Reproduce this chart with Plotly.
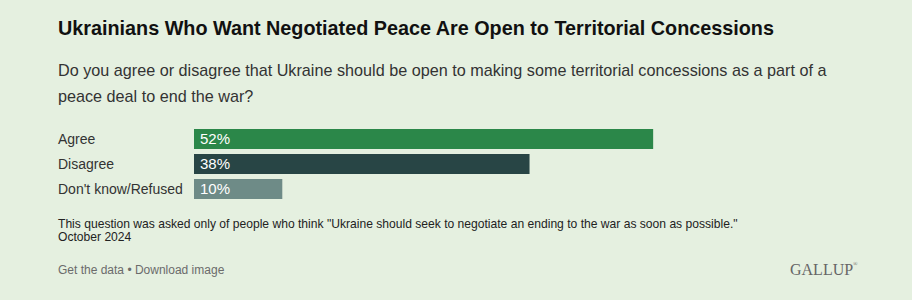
import plotly.graph_objects as go

categories = ["Agree", "Disagree", "Don't know/Refused"]
values = [52, 38, 10]
labels = ["52%", "38%", "10%"]
colors = ["#2b8749", "#284545", "#6e8b87"]

W, H = 912, 300
BG = "#e5f0e0"
FONT = "Liberation Sans, Arial, sans-serif"

x0 = 194
px_per_unit = 8.83
xmax = 60
x1 = x0 + px_per_unit * xmax

fig = go.Figure()
fig.add_trace(go.Bar(
    y=categories, x=values, orientation="h",
    marker=dict(color=colors, line=dict(width=0)),
    width=0.8,
    hoverinfo="skip",
))

top, bottom = 126.5, 201.5
fig.update_layout(
    width=W, height=H,
    margin=dict(l=0, r=0, t=0, b=0),
    paper_bgcolor=BG, plot_bgcolor=BG,
    showlegend=False,
    xaxis=dict(domain=[x0 / W, x1 / W], range=[0, xmax], visible=False, fixedrange=True),
    yaxis=dict(domain=[1 - bottom / H, 1 - top / H], range=[2.5, -0.5],
               type="category", visible=False, fixedrange=True),
    font=dict(family=FONT),
)

ann = []
def txt(x, y, s, size, color, bold=False, family=FONT, yanchor="middle", xanchor="left"):
    ann.append(dict(x=(x - 2) / W, y=1 - y / H, xref="paper", yref="paper", text=(f"<b>{s}</b>" if bold else s),
                    showarrow=False, xanchor=xanchor, yanchor=yanchor, align="left",
                    font=dict(size=size, color=color, family=family)))

txt(58, 28, "Ukrainians Who Want Negotiated Peace Are Open to Territorial Concessions", 19.8, "#111111", bold=True)
txt(58, 70, "Do you agree or disagree that Ukraine should be open to making some territorial concessions as a part of a", 16.2, "#333333")
txt(58, 96, "peace deal to end the war?", 16.2, "#333333")

for c, lab in zip(categories, labels):
    ann.append(dict(x=(58 - 2) / W, y=c, xref="paper", yref="y", text=c, showarrow=False,
                    xanchor="left", yanchor="middle", font=dict(size=14, color="#333333", family=FONT)))
    ann.append(dict(x=0, y=c, xref="x", yref="y", text=lab, showarrow=False, xshift=4, yshift=1,
                    xanchor="left", yanchor="middle", font=dict(size=15, color="white", family=FONT)))

txt(58, 224, "This question was asked only of people who think \"Ukraine should seek to negotiate an ending to the war as soon as possible.\"", 12.1, "#222222")
txt(58, 237, "October 2024", 12.1, "#222222")
txt(58, 270, "Get the data • Download image", 12, "#6b6b6b")
txt(790, 269, "GALLUP", 16, "#666666", family="Liberation Serif, Times New Roman, serif")
txt(853, 264, "®", 6, "#666666", family="Liberation Serif, Times New Roman, serif")

fig.update_layout(annotations=ann)
fig.write_html("out.html")
